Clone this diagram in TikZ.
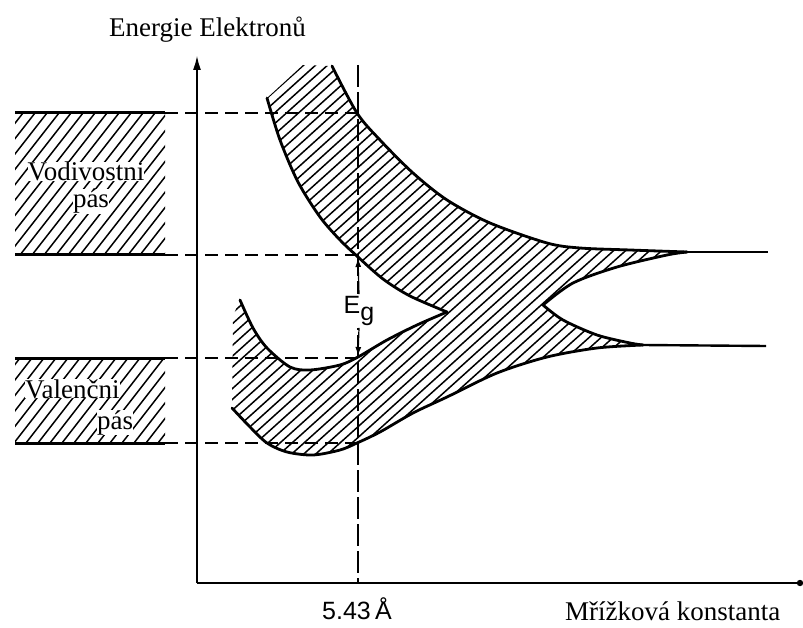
\documentclass[tikz,border=0pt]{standalone}
\usepackage{fontspec}
\setmainfont{Liberation Serif}
\setsansfont{Liberation Sans}
\usetikzlibrary{arrows.meta}
\tikzset{
  bandline/.style={line width=2.8pt, line join=round, line cap=round},
  hatchline/.style={line width=1.5pt},
  rectline/.style={line width=3pt},
  guide/.style={line width=1.6pt, dash pattern=on 13pt off 7pt},
  vguide/.style={line width=1.2pt, dash pattern=on 22pt off 5pt},
  axisline/.style={line width=2.2pt},
  serif/.style={font=\fontsize{27}{30}\selectfont, inner sep=1pt},
  sanslbl/.style={font=\sffamily\fontsize{25}{28}\selectfont, inner sep=1pt},
}
\begin{document}
\begin{tikzpicture}[x=1pt,y=-1pt]
\useasboundingbox (0,0) rectangle (803,628);
\fill[white] (0,0) rectangle (803,628);

% ---- hatched band region ----
\def\bandpath{(267,98) -- (303,65) -- (332,66)
 -- plot[smooth] coordinates {(332,66) (357,113) (380,140) (413,173) (447,200) (490,223) (547,243) (580,248) (630,250) (687,252)}
 -- plot[smooth] coordinates {(687,252) (667,255) (617,267) (573,283) (543,305)}
 -- plot[smooth] coordinates {(543,305) (563,320) (597,335) (630,343) (643,345)}
 -- plot[smooth] coordinates {(643,345) (597,348) (547,357) (497,373) (447,397) (413,413) (380,432) (357,443) (340,450) (313,455) (287,452) (267,443) (250,427) (232,408)}
 -- (233,316) -- (240,300)
 -- plot[smooth] coordinates {(240,300) (253,328) (267,348) (290,367) (310,370) (340,365) (358,357) (387,340) (417,325) (447,312)}
 -- plot[smooth] coordinates {(447,312) (410,296) (383,279) (358,257) (340,240) (320,217) (298,182) (280,140) (267,98)}
 -- cycle}
\begin{scope}
\clip \bandpath;
\foreach \a in {-430,-418,...,560} \draw[hatchline] (\a,650) -- ++(722,-650);
\end{scope}

% ---- left bands ----
\begin{scope}
\clip (15,113) rectangle (165,255);
\foreach \a in {-100,-88,...,170} \draw[hatchline] (\a,255) -- ++(111,-142);
\end{scope}
\begin{scope}
\clip (15,358) rectangle (165,443);
\foreach \a in {-70,-58,...,170} \draw[hatchline] (\a,443) -- ++(66,-85);
\end{scope}

% coordinates
\coordinate (r1a) at (15,113);  \coordinate (r1b) at (165,113);
\coordinate (r2a) at (15,255);  \coordinate (r2b) at (165,255);
\coordinate (r3a) at (15,358);  \coordinate (r3b) at (165,358);
\coordinate (r4a) at (15,443);  \coordinate (r4b) at (165,443);
\coordinate (g1) at (358,113); \coordinate (g2) at (358,255);
\coordinate (g3) at (358,358); \coordinate (g4) at (358,443);
\coordinate (vtop) at (358,65); \coordinate (vbot) at (358,583);
\coordinate (origin) at (197,583); \coordinate (ytip) at (197,55);
\coordinate (xend) at (800,583);
\coordinate (cbtop) at (358,258); \coordinate (vbtop) at (358,356);
\coordinate (ln1a) at (687,252); \coordinate (ln1b) at (768,252);
\coordinate (ln2a) at (643,345); \coordinate (ln2b) at (766,346);

\draw[rectline] (r1a) -- (r1b);
\draw[rectline] (r2a) -- (r2b);
\draw[rectline] (r3a) -- (r3b);
\draw[rectline] (r4a) -- (r4b);

\draw[guide] (r1b) -- (g1);
\draw[guide] (r2b) -- (g2);
\draw[guide] (r3b) -- (g3);
\draw[guide] (r4b) -- (g4);
\draw[vguide] (vtop) -- (vbot);

% ---- band boundaries ----
\draw[bandline] plot[smooth] coordinates {(332,66) (357,113) (380,140) (413,173) (447,200) (490,223) (547,243) (580,248) (630,250) (687,252)};
\draw[bandline] plot[smooth] coordinates {(687,252) (667,255) (617,267) (573,283) (543,305)};
\draw[bandline] plot[smooth] coordinates {(543,305) (563,320) (597,335) (630,343) (643,345)};
\draw[bandline] plot[smooth] coordinates {(643,345) (597,348) (547,357) (497,373) (447,397) (413,413) (380,432) (357,443) (340,450) (313,455) (287,452) (267,443) (250,427) (232,408)};
\draw[bandline] plot[smooth] coordinates {(240,300) (253,328) (267,348) (290,367) (310,370) (340,365) (358,357) (387,340) (417,325) (447,312)};
\draw[bandline] plot[smooth] coordinates {(447,312) (410,296) (383,279) (358,257) (340,240) (320,217) (298,182) (280,140) (267,98)};
\draw[line width=2.4pt] (ln1a) -- (ln1b);
\draw[line width=2.4pt] (ln2a) -- (ln2b);

% ---- axes ----
\draw[axisline, -{Latex[length=15pt,width=8pt]}] (origin) -- (ytip);
\draw[axisline] (origin) -- (xend);
\fill (xend) circle (3.2);

% ---- labels ----
\node[serif, anchor=base west] (ylab) at (108,37) {Energie Elektronů};
\node[serif, anchor=base west] (xlab) at (564,620) {Mřížková konstanta};
\node[sanslbl, anchor=base west] (lat) at (321,619) {5.43\,Å};
\node[serif, fill=white, inner sep=0pt, anchor=base] (vod) at (86,181) {Vodivostni};
\node[serif, fill=white, inner sep=0pt, anchor=base] (pas1) at (91,208) {pás};
\node[serif, fill=white, inner sep=0pt, anchor=base west] (val) at (25,398) {Valenčni};
\node[serif, fill=white, inner sep=0pt, anchor=base west] (pas2) at (97,429) {pás};
\node[sanslbl, fill=white, inner sep=2pt] (eg) at (359,311) {E\raisebox{-7pt}{g}};
\draw[vguide, -{Latex[length=9pt,width=6pt]}] (eg.north) -- (cbtop);
\draw[vguide, -{Latex[length=9pt,width=6pt]}] (eg.south) -- (vbtop);
\end{tikzpicture}
\end{document}
